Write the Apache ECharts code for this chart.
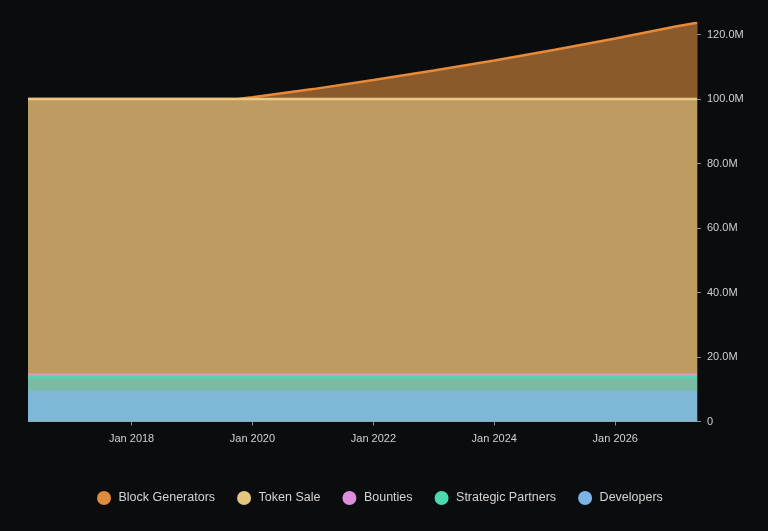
<!DOCTYPE html>
<html>
<head>
<meta charset="utf-8">
<style>
html,body{margin:0;padding:0;background:#0b0c0e;}
#c{width:768px;height:531px;}
</style>
<script src="https://cdn.jsdelivr.net/npm/echarts@6/dist/echarts.min.js"></script>
</head>
<body>
<div id="c"></div>
<script>
// Data (values in millions)
const dates = ['2016-04-15','2019-10-01','2020-01-01','2021-01-01','2022-01-01','2023-01-01','2024-01-01','2025-01-01','2026-01-01','2027-01-01','2027-05-10'];
const developers       = [9.3, 9.3, 9.3, 9.3, 9.3, 9.3, 9.3, 9.3, 9.3, 9.3, 9.3];
const strategicPartners= [4.4, 4.4, 4.4, 4.4, 4.4, 4.4, 4.4, 4.4, 4.4, 4.4, 4.4];
const bounties         = [0.9, 0.9, 0.9, 0.9, 0.9, 0.9, 0.9, 0.9, 0.9, 0.9, 0.9];
const tokenSale        = [85.4, 85.4, 85.4, 85.4, 85.4, 85.4, 85.4, 85.4, 85.4, 85.4, 85.4];
const blockGenerators  = [0, 0, 0.6, 3.1, 5.9, 8.9, 12.0, 15.3, 18.8, 22.5, 23.7];
const xTickYears = [2018, 2020, 2022, 2024, 2026];
const yTicks = [0, 20, 40, 60, 80, 100, 120];

function ts(s){ const p = s.split('-').map(Number); return Date.UTC(p[0], p[1]-1, p[2]); }
const xs = dates.map(ts);
const xTickVals = xTickYears.map(y=>Date.UTC(y,0,1));

// stacking order bottom -> top
const layers = [developers, strategicPartners, bounties, tokenSale, blockGenerators];
const cum = [];
layers.forEach((arr, k) => {
  cum.push(arr.map((v, i) => (k ? cum[k-1][i] : 0) + v));
});
function pts(arr){ return arr.map((v,i)=>[xs[i], v*1e6]); }

const chart = echarts.init(document.getElementById('c'), null, {renderer:'canvas'});

function mk(name, arr, legendColor, lineColor, areaColor, lw){
  return {
    name: name, type: 'line', data: pts(arr),
    showSymbol: false, symbol: 'none', smooth: false,
    itemStyle: {color: legendColor},
    lineStyle: {color: lineColor, width: lw},
    areaStyle: {color: areaColor, opacity: 1},
    emphasis: {disabled: true}
  };
}

const option = {
  backgroundColor: '#0b0c0e',
  animation: false,
  grid: {left: 28, right: 71, top: 22.7, bottom: 109.5, containLabel: false},
  legend: {
    bottom: 21, left: 92,
    icon: 'circle', itemWidth: 19, itemHeight: 14, itemGap: 22,
    textStyle: {color: '#d4d4d4', fontSize: 12.5, fontFamily: 'Liberation Sans, Arial, sans-serif'},
    data: ['Block Generators','Token Sale','Bounties','Strategic Partners','Developers']
  },
  xAxis: {
    type: 'value', min: xs[0], max: xs[xs.length-1],
    axisLine: {show: true, lineStyle: {color: '#2c3a48', width: 1}},
    axisTick: {show: true, length: 4, lineStyle: {color: '#8a8f96'}, customValues: xTickVals},
    axisLabel: {
      color: '#d0d0d0', fontSize: 11, margin: 12, fontFamily: 'Liberation Sans, Arial, sans-serif',
      customValues: xTickVals,
      formatter: function(v){ return 'Jan ' + new Date(v).getUTCFullYear(); }
    },
    splitLine: {show: false}
  },
  yAxis: {
    type: 'value', position: 'right', min: 0, max: 123.7e6,
    axisLine: {show: true, lineStyle: {color: '#2c3a48', width: 1}},
    axisTick: {show: true, length: 4, lineStyle: {color: '#8a8f96'}, customValues: yTicks.map(v=>v*1e6)},
    axisLabel: {
      color: '#d0d0d0', fontSize: 11, margin: 10, fontFamily: 'Liberation Sans, Arial, sans-serif',
      customValues: yTicks.map(v=>v*1e6),
      formatter: function(v){ return v === 0 ? '0' : (v/1e6).toFixed(1) + 'M'; }
    },
    splitLine: {show: false}
  },
  // drawn top layer first so lower layers paint over the area below them
  series: [
    mk('Block Generators', cum[4], '#e08c3e', '#e88a38', '#8a5a2c', 2.5),
    mk('Token Sale', cum[3], '#e3c77f', '#e8ca82', '#be9b60', 2.5),
    mk('Bounties', cum[2], '#dd8ddd', '#d99ccc', '#c994b6', 2),
    mk('Strategic Partners', cum[1], '#4dd9b0', '#56d4ae', '#7abba5', 2.5),
    mk('Developers', cum[0], '#7ab4e8', '#84b5e0', '#7fb8d6', 1.5)
  ]
};
chart.setOption(option);
</script>
</body>
</html>
